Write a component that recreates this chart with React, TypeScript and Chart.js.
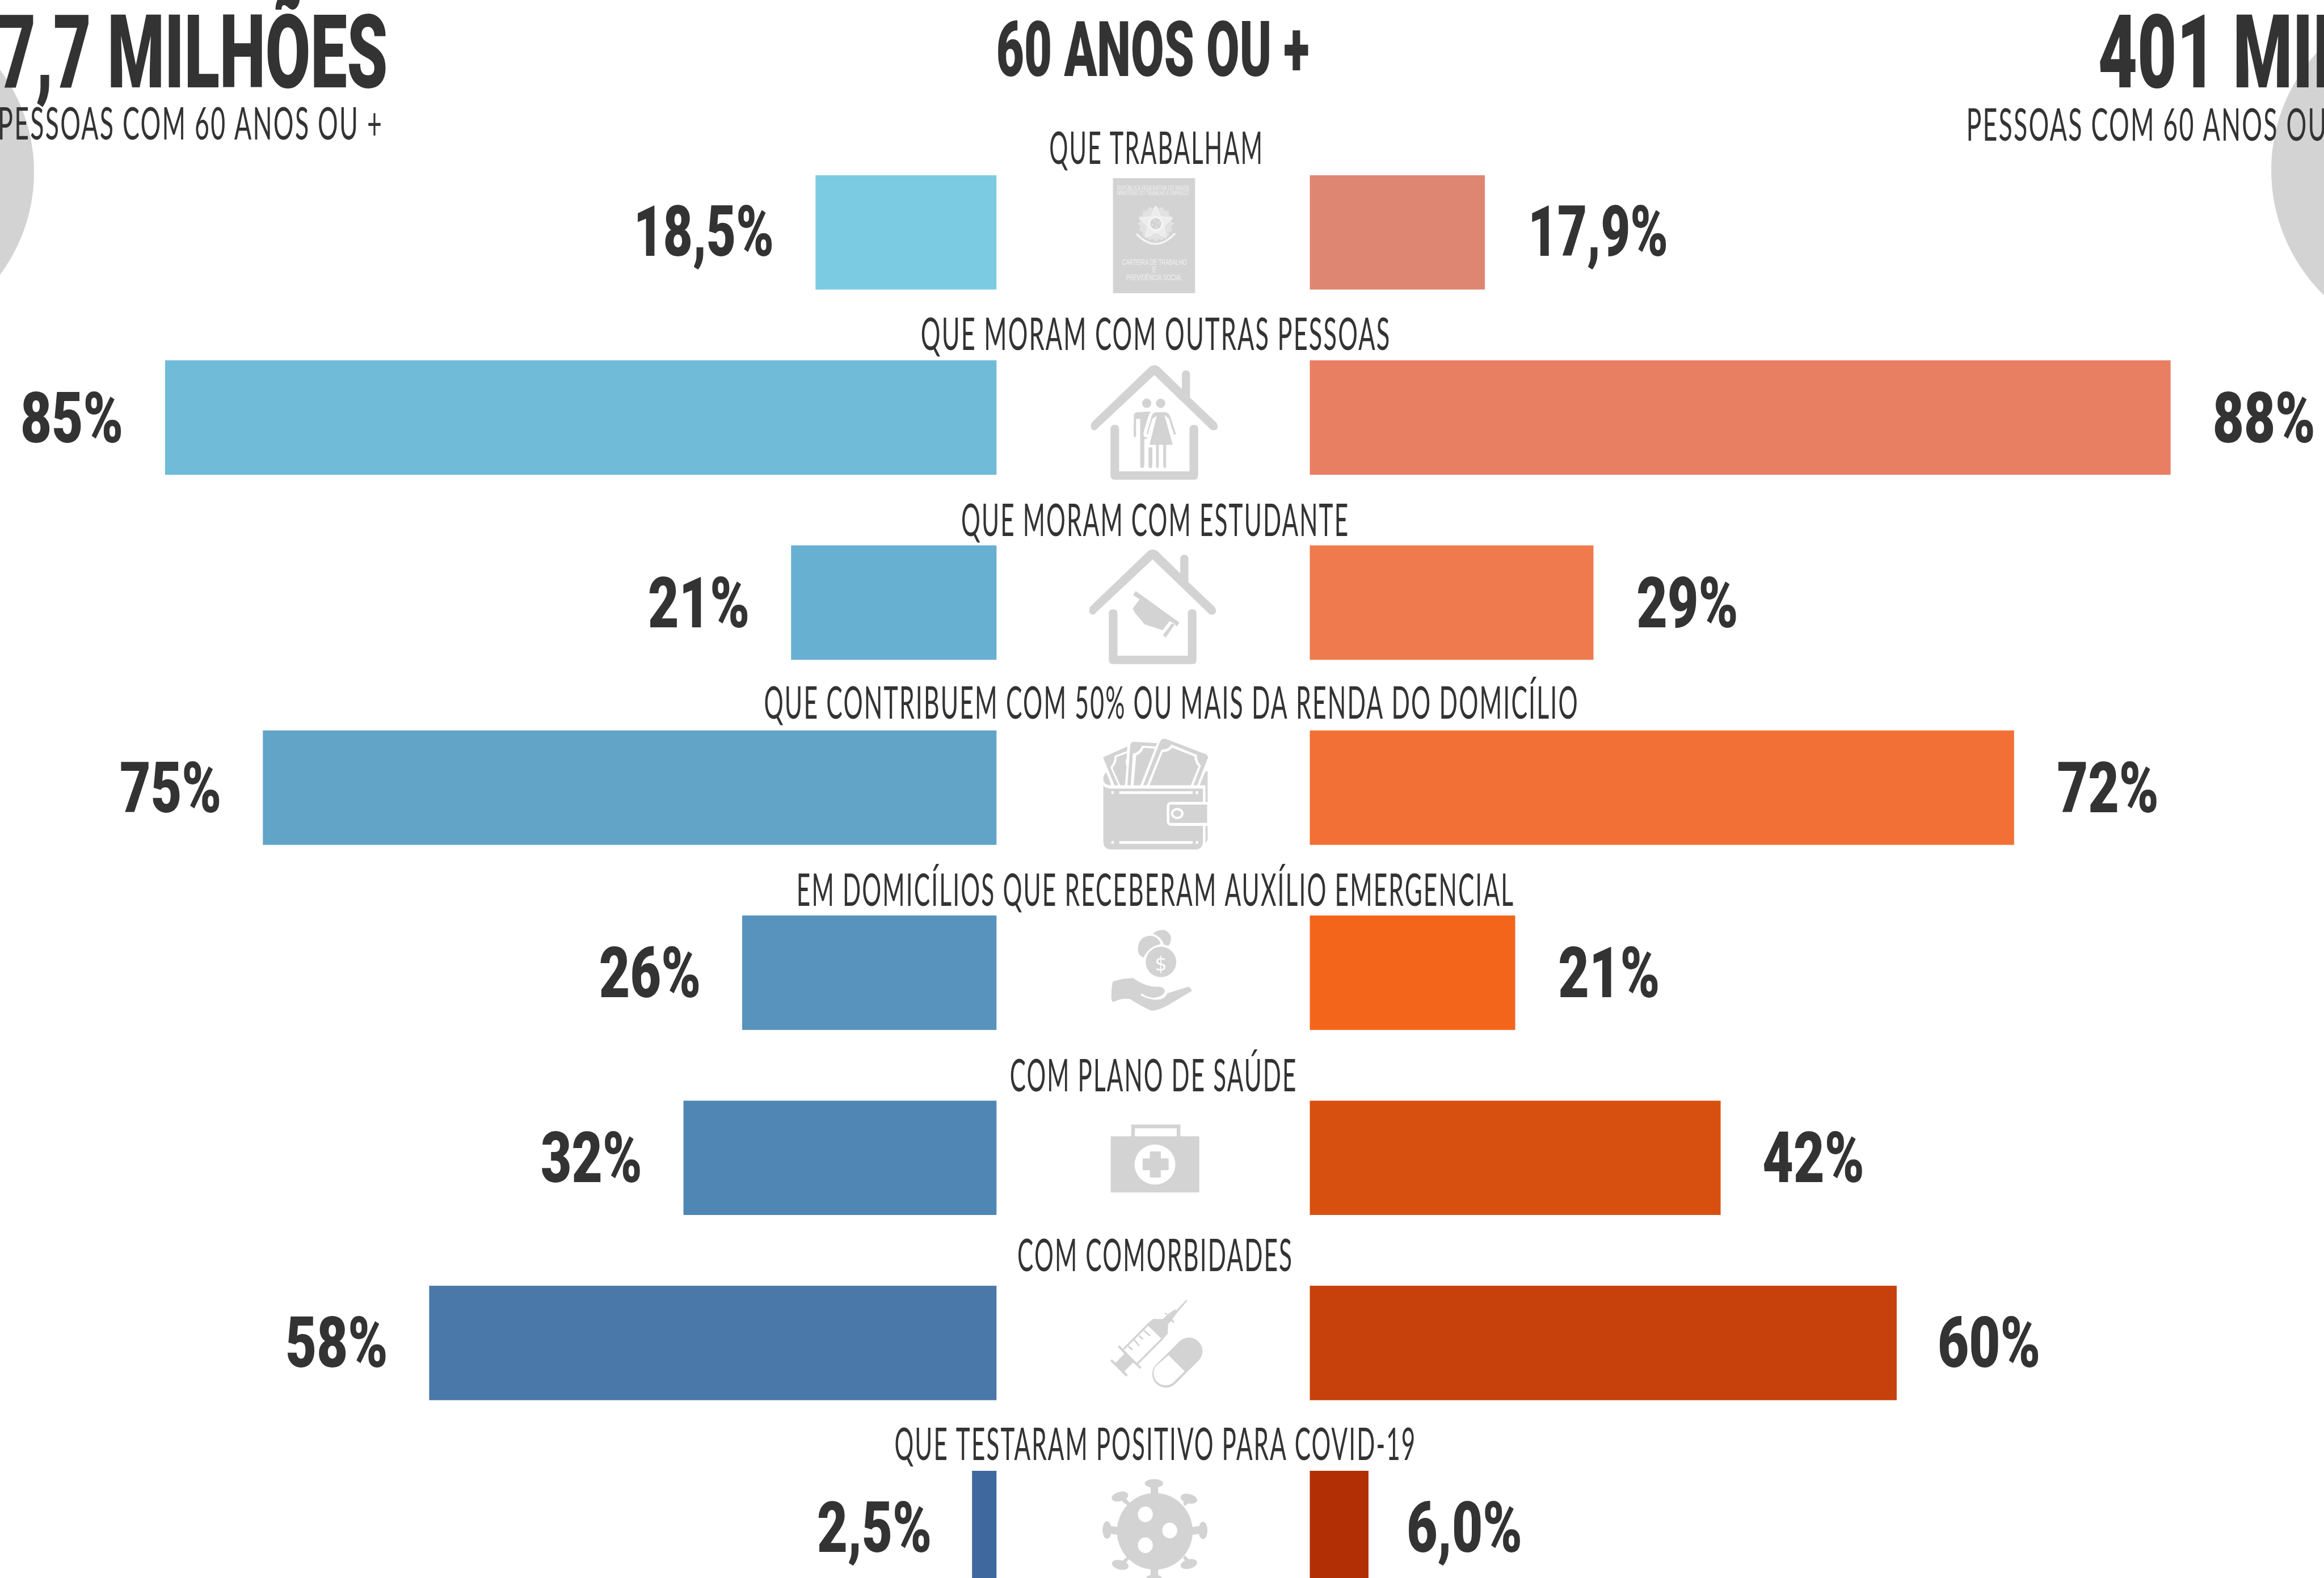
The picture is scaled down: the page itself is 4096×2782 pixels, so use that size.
import React, { useEffect, useRef } from "react";
import { Chart, registerables } from "chart.js";

Chart.register(...registerables);

// ---------- data ----------
const categories = [
  "QUE TRABALHAM",
  "QUE MORAM COM OUTRAS PESSOAS",
  "QUE MORAM COM ESTUDANTE",
  "QUE CONTRIBUEM COM 50% OU MAIS DA RENDA DO DOMICÍLIO",
  "EM DOMICÍLIOS QUE RECEBERAM AUXÍLIO EMERGENCIAL",
  "COM PLANO DE SAÚDE",
  "COM COMORBIDADES",
  "QUE TESTARAM POSITIVO PARA COVID-19",
];
const leftValues = [18.5, 85, 21, 75, 26, 32, 58, 2.5];
const rightValues = [17.9, 88, 29, 72, 21, 42, 60, 6.0];
const leftLabels = ["18,5%", "85%", "21%", "75%", "26%", "32%", "58%", "2,5%"];
const rightLabels = ["17,9%", "88%", "29%", "72%", "21%", "42%", "60%", "6,0%"];
const leftColors = ["#7BCCE3", "#70BBD8", "#67B0D2", "#62A3C8", "#5793BC", "#4F86B4", "#4A78A9", "#3F689E"];
const rightColors = ["#DF8672", "#E97F62", "#EF7A4E", "#F27036", "#F4651C", "#D8500F", "#C7410C", "#B22F05"];

const leftTotal = "7,7 MILHÕES";
const rightTotal = "401 MIL";
const subtitle = "PESSOAS COM 60 ANOS OU +";
const centerTitle = "60 ANOS OU +";

// ---------- layout (window pixels) ----------
const W = 4096;
const H = 2782;
const CANVAS_H = 2857;
const ROW = 326.2;
const ROW_SHIFT = 1.5;
const TOP = 408.2 - ROW / 2 + ROW_SHIFT;
const LEFT_BASE = 1756.3;
const RIGHT_BASE = 2308.5;
const SPLIT = (LEFT_BASE + RIGHT_BASE) / 2;
const PX_PER_PCT = 17.24;
const labelBaselines = [289, 617, 945, 1267, 1597, 1924, 2241, 2574];
const labelCenters = [2036, 2036, 2035, 2063.6, 2037, 2032, 2035, 2035];
const labelWidths = [370.5, 823, 679, 1431, 1259, 501.5, 480.6, 914];
const leftGaps = [77.4, 78, 77, 77, 77, 77, 77, 75];
const rightGaps = [83, 78, 78, 78, 78, 76, 76, 71];
const valueDrops = [43, 45, 45, 45, 45, 44, 44, 43.3];
const DARK = "#333333";
const GREY = "#D3D3D3";
const SOFT = "#F0F0F0";
const BOLD = { family: "Roboto", weight: "900", spacing: "0px" };
const LIGHT = { family: "Lato", weight: "400", spacing: "4px" };
const CARD = { family: '"Liberation Sans"', weight: "400", spacing: "0px" };

function fitText(ctx: any, text: string, font: any, capH: number, x: number, baseline: number, width: number, align: string, color = DARK) {
  ctx.save();
  ctx.fillStyle = color;
  ctx.textAlign = "left";
  ctx.textBaseline = "alphabetic";
  ctx.letterSpacing = "0px";
  ctx.font = `${font.weight} 200px ${font.family}`;
  const asc = ctx.measureText("H").actualBoundingBoxAscent;
  const size = (200 * capH) / asc;
  ctx.font = `${font.weight} ${size}px ${font.family}`;
  ctx.letterSpacing = font.spacing;
  const m = ctx.measureText(text);
  const ink = m.actualBoundingBoxLeft + m.actualBoundingBoxRight;
  const sx = width / ink;
  const x0 = align === "right" ? x - width : align === "center" ? x - width / 2 : x;
  ctx.translate(x0 + m.actualBoundingBoxLeft * sx, baseline);
  ctx.scale(sx, 1);
  ctx.fillText(text, 0, 0);
  ctx.restore();
}

// Draws a shape traced in a local grid, placed relative to a row's centre.
function place(ctx: any, cy: number, ox: number, sx: number, oy: number, sy: number, draw: () => void) {
  ctx.save();
  ctx.translate(ox, cy + oy);
  ctx.scale(sx, sy);
  draw();
  ctx.restore();
}

const ROOF = "M295 255 C295 245 305 240 310 238 L650 75 Q677 65 705 75 L843 142 L843 98 Q845 86 868 86 Q890 86 892 98 L892 168 L1050 243 Q1060 250 1058 258 Q1050 268 1030 266 Q1018 266 1005 258 L677 100 L340 258 Q325 268 310 266 Q295 262 295 255 Z";
const WALLS = "M413 262 Q415 250 438 250 Q463 250 465 262 L465 390 L889 390 L889 262 Q890 250 915 250 Q940 250 941 262 L941 400 Q941 415 920 415 L435 415 Q413 415 413 400 Z";
const MAN = "M553 225 Q553 212 575 212 L655 210 Q640 220 612 275 Q610 285 625 288 L645 288 L617 293 L617 370 Q615 380 605 380 Q592 380 592 370 L592 232 L567 232 L567 283 Q560 292 553 285 Z M642 318 L665 318 L665 372 Q665 380 653 380 Q642 380 642 372 Z";
const WOMAN = "M630 278 L660 225 Q665 213 690 212 L740 212 Q765 212 775 228 L808 278 L795 280 L765 232 L738 220 L788 310 L748 310 L748 372 Q748 380 740 380 Q731 380 731 372 L731 310 L704 310 L704 372 Q704 380 696 380 Q688 380 688 372 L688 310 L648 310 L692 222 L665 232 L638 278 Z";
const CAP = "M565 750 L828 845 L812 857 L800 850 L770 840 L727 868 L617 850 L560 815 L547 803 L588 775 L549 762 Z M800 851 L746 890 L728 884 L782 848 Z";
const WALLET_BODY = "M370 1335 Q385 1345 420 1345 L970 1345 L970 1385 L780 1385 Q752 1385 752 1400 L752 1442 Q752 1457 780 1457 L970 1457 L970 1505 Q965 1528 930 1528 L415 1528 Q372 1528 370 1505 Z M768 1393 L995 1393 L995 1448 L768 1448 Z M985 1335 L998 1335 L998 1385 L985 1385 Z M985 1457 L998 1457 L998 1500 L985 1508 Z M370 1310 Q378 1297 390 1297 L418 1335 Q372 1335 370 1318 Z M950 1335 L985 1293 L998 1293 L998 1335 Z";
const WALLET_NOTES = "M370 1250 L515 1218 L513 1232 L437 1246 Q440 1265 412 1280 L460 1335 L437 1335 L372 1255 Z M450 1250 L513 1238 L510 1252 Q498 1268 510 1278 L500 1335 L472 1335 L425 1282 Q452 1268 450 1250 Z M515 1335 L532 1215 Q535 1204 555 1204 L695 1208 L685 1218 L603 1216 Q590 1235 548 1240 L535 1335 Z M552 1335 L568 1245 Q600 1240 612 1222 L680 1225 L593 1335 Z M610 1335 L710 1205 Q720 1192 745 1195 L990 1242 Q1000 1246 1000 1252 L935 1335 L912 1335 L958 1276 Q932 1262 933 1243 L780 1212 Q760 1228 720 1228 L632 1335 Z M648 1335 L727 1235 Q765 1235 785 1222 L918 1248 Q918 1265 943 1278 L897 1335 Z";
const HAND = "M418 232 Q420 205 428 198 Q490 190 550 190 Q620 210 690 210 Q735 208 740 220 Q735 232 680 235 Q640 236 600 225 L595 230 Q640 238 680 240 Q740 240 755 225 L880 210 Q900 212 902 220 L760 252 Q700 265 660 265 Q600 255 530 238 Q480 235 430 245 Q418 245 418 232 Z";
const COINS = "M578 125 Q580 95 650 93 Q700 93 715 112 Q640 118 613 143 Q578 138 578 125 Z M668 88 Q700 78 740 80 Q780 88 778 100 Q775 112 760 116 L735 113 Q720 95 668 88 Z";
const KIT = "M415 553 L538 553 L538 526 L834 526 L834 553 L948 553 L948 682 L415 682 Z M560 535 L560 553 L812 553 L812 535 Z";
const SYRINGE = "M60 600 L75 586 L110 617 L190 535 L130 472 L145 458 L348 660 L335 675 L272 615 L190 695 L222 728 L207 745 Z M178 485 L405 255 L415 272 L190 497 Z M305 618 L530 392 L550 397 L318 630 Z M405 255 L455 213 L545 215 L585 175 L558 165 L570 155 L590 172 L658 125 L668 135 L762 35 L772 45 L680 150 L632 215 L652 240 L642 252 L622 232 L593 262 L590 348 L550 395 L528 392 L408 275 Z";
const SYRINGE_MARKS = "M225 465 L265 497 M280 405 L328 462 M325 370 L362 400 M370 320 L428 370";
const PILL_IN = "M597 548 L745 695 L655 785 A110 110 0 1 1 497 633 Z";
const SPIKES = "M655 1358 L700 1358 L700 1376 L655 1376 Z M415 1448 L456 1450 L456 1468 L415 1466 Z M905 1450 L945 1448 L945 1466 L905 1468 Z M495 1380 L530 1395 L520 1402 L485 1392 Z M885 1380 L850 1395 L860 1402 L895 1392 Z M495 1537 L530 1522 L520 1515 L485 1528 Z M885 1537 L850 1522 L860 1515 L895 1528 Z M655 1540 L700 1540 L700 1562 L655 1562 Z";

function drawEmblem(ctx: any, c0: number) {
  const ex = 2037;
  const ey = c0 - 14;
  ctx.save();
  // scalloped wreath
  ctx.fillStyle = "#E2E2E2";
  ctx.beginPath();
  for (let k = 0; k < 32; k++) {
    const r = k % 2 === 0 ? 32 : 27.5;
    const a = (k * Math.PI) / 16;
    const px = ex + r * Math.cos(a);
    const py = ey + r * Math.sin(a);
    if (k === 0) ctx.moveTo(px, py);
    else ctx.lineTo(px, py);
  }
  ctx.closePath();
  ctx.fill();
  // star
  ctx.fillStyle = "#ECECEC";
  ctx.strokeStyle = "#FAFAFA";
  ctx.lineWidth = 1;
  ctx.beginPath();
  for (let k = 0; k < 10; k++) {
    const r = k % 2 === 0 ? 31 : 15;
    const a = -Math.PI / 2 + (k * Math.PI) / 5;
    const px = ex + r * Math.cos(a);
    const py = ey + r * Math.sin(a);
    if (k === 0) ctx.moveTo(px, py);
    else ctx.lineTo(px, py);
  }
  ctx.closePath();
  ctx.fill();
  ctx.stroke();
  // ring and sky
  ctx.fillStyle = "#F4F4F4";
  ctx.beginPath();
  ctx.arc(ex, ey, 13.5, 0, Math.PI * 2);
  ctx.fill();
  ctx.fillStyle = GREY;
  ctx.beginPath();
  ctx.arc(ex, ey, 9.8, 0, Math.PI * 2);
  ctx.fill();
  ctx.fillStyle = "#F8F8F8";
  for (const [dx, dy] of [[-2, -6], [3.5, 0], [-6, 2], [1, 6], [6, -3]]) {
    ctx.beginPath();
    ctx.arc(ex + dx, ey + dy, 1, 0, Math.PI * 2);
    ctx.fill();
  }
  // ribbon
  ctx.strokeStyle = "#F4F4F4";
  ctx.lineWidth = 3.5;
  ctx.beginPath();
  ctx.moveTo(ex - 34, ey + 18);
  ctx.quadraticCurveTo(ex, ey + 54, ex + 34, ey + 17);
  ctx.stroke();
  ctx.restore();
}

function drawIcons(ctx: any, y: (i: number) => number) {
  const zx = 0.2927;
  const ox = 1836.3;
  ctx.fillStyle = GREY;

  // row 1: work card
  const c0 = y(0);
  ctx.fillRect(1961.6, c0 - 94.2, 144.7, 202.8);
  fitText(ctx, "REPÚBLICA FEDERATIVA DO BRASIL", CARD, 7.3, 1969.2, c0 - 73.4, 128, "left", SOFT);
  fitText(ctx, "MINISTÉRIO DO TRABALHO E EMPREGO", CARD, 7.3, 1969.2, c0 - 63.9, 125.6, "left", SOFT);
  fitText(ctx, "CARTEIRA DE TRABALHO", CARD, 9.6, 2034.7, c0 + 58.9, 113.8, "center", SOFT);
  fitText(ctx, "E", CARD, 9.6, 2034.7, c0 + 71.9, 6, "center", SOFT);
  fitText(ctx, "PREVIDÊNCIA SOCIAL", CARD, 9.6, 2034.7, c0 + 85.7, 98.8, "center", SOFT);
  drawEmblem(ctx, c0);

  ctx.fillStyle = GREY;
  // row 2: house with couple
  place(ctx, y(1), ox, zx, -131.9, 0.5855, () => {
    ctx.fill(new Path2D(ROOF));
    ctx.fill(new Path2D(WALLS));
    ctx.fill(new Path2D(MAN));
    ctx.fill(new Path2D(WOMAN));
    ctx.beginPath();
    ctx.ellipse(631, 185, 28, 14, 0, 0, Math.PI * 2);
    ctx.ellipse(715, 185, 28, 14, 0, 0, Math.PI * 2);
    ctx.fill();
  });

  // row 3: house with graduation cap
  place(ctx, y(2), ox, zx, -458.1, 0.5855, () => {
    ctx.save();
    ctx.translate(-10, 555);
    ctx.fill(new Path2D(ROOF));
    ctx.fill(new Path2D(WALLS));
    ctx.restore();
    ctx.fill(new Path2D(CAP));
  });

  // row 4: wallet
  place(ctx, y(3), ox, zx, -784.3, 0.5855, () => {
    ctx.fill(new Path2D(WALLET_NOTES));
    ctx.fill(new Path2D(WALLET_BODY));
    ctx.fillStyle = "#FFFFFF";
    for (const sy of [1353, 1503]) {
      ctx.fillRect(418, sy, 15, 8);
      ctx.fillRect(466, sy, 442, 8);
      ctx.fillRect(926, sy, 15, 8);
    }
    ctx.beginPath();
    ctx.ellipse(815, 1420, 38, 17, 0, 0, Math.PI * 2);
    ctx.fill();
    ctx.fillStyle = GREY;
    ctx.beginPath();
    ctx.ellipse(815, 1420, 24, 10, 0, 0, Math.PI * 2);
    ctx.fill();
  });

  // row 5: hand with coins
  place(ctx, y(4), ox, zx, -135, 0.7678, () => {
    ctx.fill(new Path2D(HAND));
    ctx.fill(new Path2D(COINS));
    ctx.beginPath();
    ctx.ellipse(717, 153, 92, 35, 0, 0, Math.PI * 2);
    ctx.fill();
  });
  ctx.save();
  ctx.fillStyle = "#FFFFFF";
  ctx.font = '400 34px "DejaVu Sans"';
  ctx.textAlign = "center";
  ctx.textBaseline = "alphabetic";
  ctx.fillText("$", ox + 717 * zx, y(4) - 135 + 172 * 0.7678);
  ctx.restore();

  // row 6: medical kit
  place(ctx, y(5), ox, zx, -461.2, 0.7678, () => {
    ctx.fill(new Path2D(KIT), "evenodd");
    ctx.fillStyle = "#FFFFFF";
    ctx.beginPath();
    ctx.ellipse(681, 618, 123, 46, 0, 0, Math.PI * 2);
    ctx.fill();
    ctx.fillStyle = GREY;
    ctx.fillRect(607, 604, 156, 27);
    ctx.fillRect(650, 588, 66, 60);
  });

  // row 7: syringe and pill
  place(ctx, y(6), 1945.3, 0.19128, -81.6, 0.19128, () => {
    ctx.fill(new Path2D(SYRINGE));
    ctx.strokeStyle = GREY;
    ctx.lineWidth = 15;
    ctx.stroke(new Path2D(SYRINGE_MARKS));
    ctx.lineWidth = 250;
    ctx.lineCap = "round";
    ctx.stroke(new Path2D("M785 510 L572 722"));
    ctx.fillStyle = "#FFFFFF";
    ctx.fill(new Path2D(PILL_IN));
    ctx.fillStyle = GREY;
  });

  // row 8: virus
  place(ctx, y(7), ox, zx, -1113.6, 0.7678, () => {
    ctx.fill(new Path2D(SPIKES));
    ctx.beginPath();
    ctx.ellipse(680, 1460, 228, 88, 0, 0, Math.PI * 2);
    ctx.fill();
    ctx.beginPath();
    ctx.ellipse(675, 1350, 55, 10, 0, 0, Math.PI * 2);
    ctx.fill();
    ctx.beginPath();
    ctx.ellipse(392, 1457, 27, 20, 0, 0, Math.PI * 2);
    ctx.fill();
    ctx.beginPath();
    ctx.ellipse(970, 1458, 27, 20, 0, 0, Math.PI * 2);
    ctx.fill();
    for (const [cx, cyy, rot] of [[470, 1380, -0.07], [885, 1385, 0.07], [472, 1537, 0.07], [885, 1535, -0.07], [675, 1570, 0]]) {
      ctx.beginPath();
      ctx.ellipse(cx, cyy, 50, 11, rot, 0, Math.PI * 2);
      ctx.fill();
    }
    ctx.fillStyle = "#FFFFFF";
    for (const [cx, cyy] of [[623, 1421], [770, 1458], [623, 1492]]) {
      ctx.beginPath();
      ctx.ellipse(cx, cyy, 45, 18, 0, 0, Math.PI * 2);
      ctx.fill();
    }
    ctx.fillStyle = GREY;
  });
}

const decorPlugin = {
  id: "decor",
  beforeDatasetsDraw(chart: any) {
    const ctx = chart.ctx;
    ctx.save();
    ctx.fillStyle = GREY;
    ctx.beginPath();
    ctx.arc(-242, 303.6, 302, 0, Math.PI * 2);
    ctx.fill();
    ctx.beginPath();
    ctx.arc(4311, 300, 308, 0, Math.PI * 2);
    ctx.fill();
    ctx.restore();
  },
  afterDatasetsDraw(chart: any) {
    const ctx = chart.ctx;
    const { y, xLeft, xRight } = chart.scales;
    ctx.save();

    drawIcons(ctx, (i: number) => y.getPixelForValue(i) - ROW_SHIFT);

    // headers
    fitText(ctx, leftTotal, BOLD, 128.5, 680, 153.8, 681, "right");
    fitText(ctx, subtitle, LIGHT, 57.4, 671, 245.6, 671, "right");
    fitText(ctx, rightTotal, BOLD, 128.5, 3701, 154.4, 439, "left");
    fitText(ctx, subtitle, LIGHT, 57.4, 3469.4, 247.7, 671, "left");
    fitText(ctx, centerTitle, BOLD, 96.4, SPLIT, 133.7, 546.8, "center");

    // category captions and value labels
    const valueWidths: Record<number, number> = { 3: 173, 4: 196, 5: 236 };
    categories.forEach((c, i) => {
      fitText(ctx, c, LIGHT, 57.4, labelCenters[i], labelBaselines[i], labelWidths[i], "center");
      const base = y.getPixelForValue(i) - ROW_SHIFT + valueDrops[i];
      fitText(ctx, leftLabels[i], BOLD, 89, xLeft.getPixelForValue(leftValues[i]) - leftGaps[i], base, valueWidths[leftLabels[i].length], "right");
      fitText(ctx, rightLabels[i], BOLD, 89, xRight.getPixelForValue(rightValues[i]) + rightGaps[i], base, valueWidths[rightLabels[i].length], "left");
    });
    ctx.restore();
  },
};

export default function App() {
  const ref = useRef<HTMLCanvasElement>(null);
  useEffect(() => {
    const minV = -(SPLIT - LEFT_BASE) / PX_PER_PCT;
    const chart = new Chart(ref.current as HTMLCanvasElement, {
      type: "bar",
      data: {
        labels: categories,
        datasets: [
          { label: "7,7 milhões", data: leftValues, backgroundColor: leftColors, xAxisID: "xLeft", yAxisID: "y", grouped: false, barPercentage: 0.618, categoryPercentage: 1 } as any,
          { label: "401 mil", data: rightValues, backgroundColor: rightColors, xAxisID: "xRight", yAxisID: "y", grouped: false, barPercentage: 0.618, categoryPercentage: 1 } as any,
        ],
      },
      options: {
        indexAxis: "y",
        responsive: false,
        animation: false,
        devicePixelRatio: 1,
        layout: { padding: { top: TOP, left: 0, right: 0, bottom: 0 } },
        plugins: { legend: { display: false }, tooltip: { enabled: false } },
        scales: {
          y: { type: "category", display: false, grid: { display: false } },
          xLeft: {
            type: "linear",
            position: "bottom",
            display: false,
            reverse: true,
            stack: "x",
            stackWeight: SPLIT,
            min: minV,
            max: LEFT_BASE / PX_PER_PCT,
            grid: { display: false },
          },
          xRight: {
            type: "linear",
            position: "bottom",
            display: false,
            stack: "x",
            stackWeight: W - SPLIT,
            min: minV,
            max: (W - RIGHT_BASE) / PX_PER_PCT,
            grid: { display: false },
          },
        },
      } as any,
      plugins: [decorPlugin],
    });
    return () => chart.destroy();
  }, []);
  return (
    <div style={{ position: "absolute", left: 0, top: 0, width: W, height: H, overflow: "hidden", background: "#FFFFFF" }}>
      <canvas ref={ref} width={W} height={CANVAS_H} style={{ display: "block" }} />
    </div>
  );
}
